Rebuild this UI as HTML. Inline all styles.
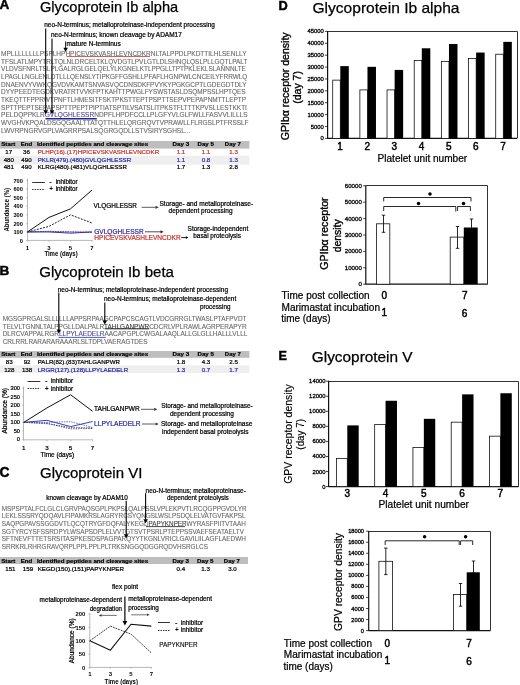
<!DOCTYPE html><html><head><meta charset="utf-8"><style>html,body{margin:0;padding:0;background:#fff;}svg{display:block;will-change:transform;}text{font-family:"Liberation Sans",sans-serif;}</style></head><body><svg width="520" height="685" viewBox="0 0 520 685" font-family="Liberation Sans, sans-serif">
<rect width="520" height="685" fill="#fff"/>
<text x="-0.60" y="9.20" font-size="13.6" font-weight="bold" fill="#000" stroke="#000" stroke-width="0.45">A</text>
<text x="40.00" y="12.30" font-size="14.6" font-weight="normal" fill="#000" stroke="#000" stroke-width="0.25" textLength="138.20" lengthAdjust="spacingAndGlyphs">Glycoprotein Ib alpha</text>
<text x="44.20" y="27.10" font-size="6.6" font-weight="normal" fill="#000" stroke="#000" stroke-width="0.22" textLength="170.80" lengthAdjust="spacingAndGlyphs">neo-N-terminus; metalloproteinase-independent processing</text>
<text x="51.00" y="36.90" font-size="6.6" font-weight="normal" fill="#000" stroke="#000" stroke-width="0.22" textLength="130.80" lengthAdjust="spacingAndGlyphs">neo-N-terminus; known cleavage by ADAM17</text>
<text x="66.60" y="46.30" font-size="6.4" font-weight="normal" fill="#000" stroke="#000" stroke-width="0.22" textLength="54.20" lengthAdjust="spacingAndGlyphs">mature N-terminus</text>
<line x1="65.60" y1="41.50" x2="65.60" y2="48.50" stroke="#000" stroke-width="0.9" />
<path d="M63.4,47.8 L67.9,47.8 L65.6,52.0 Z" fill="#000" stroke="none" stroke-width="0" />
<text x="1.10" y="55.80" font-size="7.4" fill="#6a6a6a" stroke="#6a6a6a" stroke-width="0.12" textLength="245.37" lengthAdjust="spacingAndGlyphs"><tspan fill="#6a6a6a" stroke="#6a6a6a">MPLLLLLLLLPSPLHP</tspan><tspan fill="#6a6a6a" stroke="#6a6a6a">HPICEVSKVASHLEVNCDKR</tspan><tspan fill="#6a6a6a" stroke="#6a6a6a">NLTALPPDLPKDTTILHLSENLLY</tspan></text>
<text x="1.10" y="63.50" font-size="7.4" fill="#6a6a6a" stroke="#6a6a6a" stroke-width="0.12" textLength="246.26" lengthAdjust="spacingAndGlyphs">TFSLATLMPYTRLTQLNLDRCELTKLQVDGTLPVLGTLDLSHNQLQSLPLLGQTLPALT</text>
<text x="1.10" y="71.20" font-size="7.4" fill="#6a6a6a" stroke="#6a6a6a" stroke-width="0.12" textLength="244.83" lengthAdjust="spacingAndGlyphs">VLDVSFNRLTSLPLGALRGLGELQELYLKGNELKTLPPGLLTPTPKLEKLSLANNNLTE</text>
<text x="1.10" y="78.90" font-size="7.4" fill="#6a6a6a" stroke="#6a6a6a" stroke-width="0.12" textLength="246.29" lengthAdjust="spacingAndGlyphs">LPAGLLNGLENLDTLLLQENSLYTIPKGFFGSHLLPFAFLHGNPWLCNCEILYFRRWLQ</text>
<text x="1.10" y="86.60" font-size="7.4" fill="#6a6a6a" stroke="#6a6a6a" stroke-width="0.12" textLength="245.37" lengthAdjust="spacingAndGlyphs">DNAENVYVWKQGVDVKAMTSNVASVQCDNSDKFPVYKYPGKGCPTLGDEGDTDLY</text>
<text x="1.10" y="94.30" font-size="7.4" fill="#6a6a6a" stroke="#6a6a6a" stroke-width="0.12" textLength="244.54" lengthAdjust="spacingAndGlyphs">DYYPEEDTEGDKVRATRTVVKFPTKAHTTPWGLFYSWSTASLDSQMPSSLHPTQES</text>
<text x="1.10" y="102.00" font-size="7.4" fill="#6a6a6a" stroke="#6a6a6a" stroke-width="0.12" textLength="244.95" lengthAdjust="spacingAndGlyphs">TKEQTTFPPRWTPNFTLHMESITFSKTPKSTTEPTPSPTTSEPVPEPAPNMTTLEPTP</text>
<text x="1.10" y="109.70" font-size="7.4" fill="#6a6a6a" stroke="#6a6a6a" stroke-width="0.12" textLength="245.80" lengthAdjust="spacingAndGlyphs">SPTTPEPTSEPAPSPTTPEPTPIPTIATSPTILVSATSLITPKSTFLTTTKPVSLLESTKKTI</text>
<text x="1.10" y="117.40" font-size="7.4" fill="#6a6a6a" stroke="#6a6a6a" stroke-width="0.12" textLength="246.46" lengthAdjust="spacingAndGlyphs"><tspan fill="#6a6a6a" stroke="#6a6a6a">PELDQPPKLR</tspan><tspan fill="#4a4a9a" stroke="#4a4a9a">GVLQGHLESSR</tspan><tspan fill="#6a6a6a" stroke="#6a6a6a">NDPFLHPDFCCLLPLGFYVLGLFWLLFASVVLILLLS</tspan></text>
<text x="1.10" y="125.10" font-size="7.4" fill="#6a6a6a" stroke="#6a6a6a" stroke-width="0.12" textLength="247.45" lengthAdjust="spacingAndGlyphs">WVGHVKPQALDSGQGAALTTATQTTHLELQRGRQVTVPRAWLLFLRGSLPTFRSSLF</text>
<text x="1.10" y="132.80" font-size="7.4" fill="#6a6a6a" stroke="#6a6a6a" stroke-width="0.12" textLength="189.10" lengthAdjust="spacingAndGlyphs">LWVRPNGRVGPLVAGRRPSALSQGRGQDLLSTVSIRYSGHSL...</text>
<line x1="66.50" y1="56.50" x2="150.00" y2="56.50" stroke="#d84a4a" stroke-width="0.9" />
<line x1="45.50" y1="118.80" x2="96.80" y2="118.80" stroke="#24248a" stroke-width="1.6" />
<line x1="45.70" y1="28.60" x2="45.70" y2="110.80" stroke="#000" stroke-width="1.1" />
<path d="M43.40,110.30 L48.00,110.30 L45.70,114.30 Z" fill="#000" stroke="none" stroke-width="0" />
<line x1="52.00" y1="38.60" x2="52.00" y2="110.80" stroke="#000" stroke-width="1.1" />
<path d="M49.70,110.30 L54.30,110.30 L52.00,114.30 Z" fill="#000" stroke="none" stroke-width="0" />
<rect x="0.00" y="141.00" width="249.40" height="7.60" fill="#bebebe"/>
<rect x="0.00" y="155.80" width="249.40" height="8.80" fill="#efefef"/>
<text x="1.20" y="146.40" font-size="6.2" font-weight="bold" fill="#000" stroke="#000" stroke-width="0.2" textLength="14.20" lengthAdjust="spacingAndGlyphs">Start</text>
<text x="20.80" y="146.40" font-size="6.2" font-weight="bold" fill="#000" stroke="#000" stroke-width="0.2" textLength="11.50" lengthAdjust="spacingAndGlyphs">End</text>
<text x="36.90" y="146.40" font-size="6.2" font-weight="bold" fill="#000" stroke="#000" stroke-width="0.2" textLength="111.30" lengthAdjust="spacingAndGlyphs">Identified peptides and cleavage sites</text>
<text x="172.50" y="146.40" font-size="6.2" font-weight="bold" fill="#000" stroke="#000" stroke-width="0.2" textLength="16.70" lengthAdjust="spacingAndGlyphs">Day 3</text>
<text x="197.50" y="146.40" font-size="6.2" font-weight="bold" fill="#000" stroke="#000" stroke-width="0.2" textLength="16.30" lengthAdjust="spacingAndGlyphs">Day 5</text>
<text x="224.80" y="146.40" font-size="6.2" font-weight="bold" fill="#000" stroke="#000" stroke-width="0.2" textLength="16.00" lengthAdjust="spacingAndGlyphs">Day 7</text>
<text x="8.80" y="154.30" font-size="6.2" font-weight="normal" fill="#000" stroke="#000" stroke-width="0.22" text-anchor="middle">17</text>
<text x="26.50" y="154.30" font-size="6.2" font-weight="normal" fill="#000" stroke="#000" stroke-width="0.22" text-anchor="middle">36</text>
<text x="37.70" y="154.30" font-size="6.2" font-weight="normal" fill="#c8352c" stroke="#c8352c" stroke-width="0.22" textLength="121.50" lengthAdjust="spacingAndGlyphs">PLHP(16).(17)HPICEVSKVASHLEVNCDKR</text>
<text x="181.00" y="154.30" font-size="6.2" font-weight="normal" fill="#c8352c" stroke="#c8352c" stroke-width="0.22" text-anchor="middle">1.1</text>
<text x="206.00" y="154.30" font-size="6.2" font-weight="normal" fill="#c8352c" stroke="#c8352c" stroke-width="0.22" text-anchor="middle">1.1</text>
<text x="233.60" y="154.30" font-size="6.2" font-weight="normal" fill="#c8352c" stroke="#c8352c" stroke-width="0.22" text-anchor="middle">1.3</text>
<text x="8.80" y="161.70" font-size="6.2" font-weight="normal" fill="#000" stroke="#000" stroke-width="0.22" text-anchor="middle">480</text>
<text x="26.50" y="161.70" font-size="6.2" font-weight="normal" fill="#000" stroke="#000" stroke-width="0.22" text-anchor="middle">490</text>
<text x="37.70" y="161.70" font-size="6.2" font-weight="normal" fill="#2b2ba6" stroke="#2b2ba6" stroke-width="0.22" textLength="93.50" lengthAdjust="spacingAndGlyphs">PKLR(479).(480)GVLQGHLESSR</text>
<text x="181.00" y="161.70" font-size="6.2" font-weight="normal" fill="#2b2ba6" stroke="#2b2ba6" stroke-width="0.22" text-anchor="middle">1.1</text>
<text x="206.00" y="161.70" font-size="6.2" font-weight="normal" fill="#2b2ba6" stroke="#2b2ba6" stroke-width="0.22" text-anchor="middle">0.8</text>
<text x="233.60" y="161.70" font-size="6.2" font-weight="normal" fill="#2b2ba6" stroke="#2b2ba6" stroke-width="0.22" text-anchor="middle">1.3</text>
<text x="8.80" y="169.20" font-size="6.2" font-weight="normal" fill="#000" stroke="#000" stroke-width="0.22" text-anchor="middle">481</text>
<text x="26.50" y="169.20" font-size="6.2" font-weight="normal" fill="#000" stroke="#000" stroke-width="0.22" text-anchor="middle">490</text>
<text x="37.70" y="169.20" font-size="6.2" font-weight="normal" fill="#000" stroke="#000" stroke-width="0.22" textLength="89.20" lengthAdjust="spacingAndGlyphs">KLRG(480).(481)VLQGHLESSR</text>
<text x="181.00" y="169.20" font-size="6.2" font-weight="normal" fill="#000" stroke="#000" stroke-width="0.22" text-anchor="middle">1.7</text>
<text x="206.00" y="169.20" font-size="6.2" font-weight="normal" fill="#000" stroke="#000" stroke-width="0.22" text-anchor="middle">1.3</text>
<text x="233.60" y="169.20" font-size="6.2" font-weight="normal" fill="#000" stroke="#000" stroke-width="0.22" text-anchor="middle">2.8</text>
<line x1="27.60" y1="178.50" x2="27.60" y2="240.40" stroke="#9a9a9a" stroke-width="0.7" />
<line x1="27.60" y1="240.40" x2="92.50" y2="240.40" stroke="#9a9a9a" stroke-width="0.7" />
<line x1="26.20" y1="240.50" x2="27.60" y2="240.50" stroke="#9a9a9a" stroke-width="0.6" />
<text x="22.90" y="242.60" font-size="5.7" font-weight="bold" fill="#000" text-anchor="end">0</text>
<line x1="26.20" y1="231.95" x2="27.60" y2="231.95" stroke="#9a9a9a" stroke-width="0.6" />
<text x="22.90" y="234.05" font-size="5.7" font-weight="bold" fill="#000" text-anchor="end">100</text>
<line x1="26.20" y1="223.40" x2="27.60" y2="223.40" stroke="#9a9a9a" stroke-width="0.6" />
<text x="22.90" y="225.50" font-size="5.7" font-weight="bold" fill="#000" text-anchor="end">200</text>
<line x1="26.20" y1="214.85" x2="27.60" y2="214.85" stroke="#9a9a9a" stroke-width="0.6" />
<text x="22.90" y="216.95" font-size="5.7" font-weight="bold" fill="#000" text-anchor="end">300</text>
<line x1="26.20" y1="206.30" x2="27.60" y2="206.30" stroke="#9a9a9a" stroke-width="0.6" />
<text x="22.90" y="208.40" font-size="5.7" font-weight="bold" fill="#000" text-anchor="end">400</text>
<line x1="26.20" y1="197.75" x2="27.60" y2="197.75" stroke="#9a9a9a" stroke-width="0.6" />
<text x="22.90" y="199.85" font-size="5.7" font-weight="bold" fill="#000" text-anchor="end">500</text>
<line x1="26.20" y1="189.20" x2="27.60" y2="189.20" stroke="#9a9a9a" stroke-width="0.6" />
<text x="22.90" y="191.30" font-size="5.7" font-weight="bold" fill="#000" text-anchor="end">600</text>
<line x1="26.20" y1="180.65" x2="27.60" y2="180.65" stroke="#9a9a9a" stroke-width="0.6" />
<text x="22.90" y="182.75" font-size="5.7" font-weight="bold" fill="#000" text-anchor="end">700</text>
<line x1="27.50" y1="240.40" x2="27.50" y2="241.80" stroke="#9a9a9a" stroke-width="0.6" />
<text x="27.50" y="249.80" font-size="6.0" font-weight="bold" fill="#000" text-anchor="middle">1</text>
<line x1="49.00" y1="240.40" x2="49.00" y2="241.80" stroke="#9a9a9a" stroke-width="0.6" />
<text x="49.00" y="249.80" font-size="6.0" font-weight="bold" fill="#000" text-anchor="middle">3</text>
<line x1="70.50" y1="240.40" x2="70.50" y2="241.80" stroke="#9a9a9a" stroke-width="0.6" />
<text x="70.50" y="249.80" font-size="6.0" font-weight="bold" fill="#000" text-anchor="middle">5</text>
<line x1="92.00" y1="240.40" x2="92.00" y2="241.80" stroke="#9a9a9a" stroke-width="0.6" />
<text x="92.00" y="249.80" font-size="6.0" font-weight="bold" fill="#000" text-anchor="middle">7</text>
<text x="44.40" y="255.60" font-size="6.6" font-weight="bold" fill="#000" textLength="33.30" lengthAdjust="spacingAndGlyphs">Time (days)</text>
<text x="9.45" y="209.80" font-size="6.8" font-weight="bold" fill="#000" text-anchor="middle" transform="rotate(-90 9.45 209.80)" textLength="43.50" lengthAdjust="spacingAndGlyphs">Abundance (%)</text>
<line x1="32.20" y1="182.50" x2="44.90" y2="182.50" stroke="#333" stroke-width="1.0" />
<line x1="32.20" y1="189.50" x2="44.90" y2="189.50" stroke="#333" stroke-width="1.0" stroke-dasharray="1.5,1"/>
<text x="50.60" y="183.60" font-size="6.4" font-weight="normal" fill="#000" stroke="#000" stroke-width="0.22" text-anchor="middle">-</text>
<text x="51.20" y="191.10" font-size="6.4" font-weight="bold" fill="#000" text-anchor="middle">+</text>
<text x="55.70" y="183.60" font-size="6.4" font-weight="normal" fill="#000" stroke="#000" stroke-width="0.22" textLength="22.00" lengthAdjust="spacingAndGlyphs">inhibitor</text>
<text x="55.70" y="190.90" font-size="6.4" font-weight="normal" fill="#000" stroke="#000" stroke-width="0.22" textLength="22.00" lengthAdjust="spacingAndGlyphs">inhibitor</text>
<polyline points="27.50,231.95 49.00,231.61 70.50,231.44 92.00,231.09" fill="none" stroke="#e0a0a0" stroke-width="0.6" stroke-linejoin="round" />
<polyline points="27.50,231.95 49.00,231.44 70.50,231.95 92.00,232.12" fill="none" stroke="#e0a0a0" stroke-width="0.6" stroke-linejoin="round" stroke-dasharray="1.5,1"/>
<polyline points="27.50,231.95 49.00,231.95 70.50,233.15 92.00,231.95" fill="none" stroke="#3030b0" stroke-width="1.0" stroke-linejoin="round" />
<polyline points="27.50,231.95 49.00,231.27 70.50,231.95 92.00,232.38" fill="none" stroke="#3030b0" stroke-width="0.9" stroke-linejoin="round" stroke-dasharray="1.5,1"/>
<polyline points="27.50,231.95 49.00,217.41 70.50,208.87 92.00,190.06" fill="none" stroke="#111" stroke-width="1.0" stroke-linejoin="round" />
<polyline points="27.50,231.95 49.00,226.39 70.50,214.85 92.00,222.97" fill="none" stroke="#222" stroke-width="1.0" stroke-linejoin="round" stroke-dasharray="2,1.2"/>
<text x="93.50" y="208.00" font-size="6.6" font-weight="normal" fill="#000" stroke="#000" stroke-width="0.22" textLength="43.50" lengthAdjust="spacingAndGlyphs">VLQGHLESSR</text>
<line x1="141.60" y1="207.30" x2="155.90" y2="207.30" stroke="#333" stroke-width="0.8" />
<path d="M155.60,205.70 L155.60,208.90 L158.60,207.30 Z" fill="#333" stroke="none" stroke-width="0" />
<text x="159.50" y="206.10" font-size="6.6" font-weight="normal" fill="#000" stroke="#000" stroke-width="0.22" textLength="93.70" lengthAdjust="spacingAndGlyphs">Storage- and metalloproteinase-</text>
<text x="168.60" y="213.10" font-size="6.6" font-weight="normal" fill="#000" stroke="#000" stroke-width="0.22" textLength="63.90" lengthAdjust="spacingAndGlyphs">dependent processing</text>
<text x="94.30" y="234.00" font-size="6.6" font-weight="normal" fill="#2b2ba6" stroke="#2b2ba6" stroke-width="0.22" textLength="49.30" lengthAdjust="spacingAndGlyphs">GVLQGHLESSR</text>
<line x1="145.00" y1="231.80" x2="160.80" y2="231.80" stroke="#222" stroke-width="0.8" />
<path d="M160.50,230.20 L160.50,233.40 L163.50,231.80 Z" fill="#222" stroke="none" stroke-width="0" />
<text x="94.30" y="239.70" font-size="6.6" font-weight="normal" fill="#c8352c" stroke="#c8352c" stroke-width="0.22" textLength="86.40" lengthAdjust="spacingAndGlyphs">HPICEVSKVASHLEVNCDKR</text>
<line x1="181.20" y1="237.60" x2="186.20" y2="237.60" stroke="#000" stroke-width="0.9" />
<path d="M185.90,236.30 L185.90,238.90 L188.30,237.60 Z" fill="#000" stroke="none" stroke-width="0" />
<text x="187.60" y="230.60" font-size="6.6" font-weight="normal" fill="#000" stroke="#000" stroke-width="0.22" textLength="60.70" lengthAdjust="spacingAndGlyphs">Storage-independent</text>
<text x="193.30" y="238.40" font-size="6.6" font-weight="normal" fill="#000" stroke="#000" stroke-width="0.22" textLength="47.60" lengthAdjust="spacingAndGlyphs">basal proteolysis</text>
<text x="-0.60" y="274.70" font-size="13.6" font-weight="bold" fill="#000" stroke="#000" stroke-width="0.45">B</text>
<text x="39.20" y="276.70" font-size="15.05" font-weight="normal" fill="#000" stroke="#000" stroke-width="0.25" textLength="134.80" lengthAdjust="spacingAndGlyphs">Glycoprotein Ib beta</text>
<text x="57.70" y="291.60" font-size="6.6" font-weight="normal" fill="#000" stroke="#000" stroke-width="0.22" textLength="170.30" lengthAdjust="spacingAndGlyphs">neo-N-terminus; metalloproteinase-independent processing</text>
<text x="104.00" y="301.20" font-size="6.6" font-weight="normal" fill="#000" stroke="#000" stroke-width="0.22" textLength="132.20" lengthAdjust="spacingAndGlyphs">neo-N-terminus; metalloproteinase-dependent</text>
<text x="200.00" y="308.90" font-size="6.6" font-weight="normal" fill="#000" stroke="#000" stroke-width="0.22" textLength="30.40" lengthAdjust="spacingAndGlyphs">processing</text>
<text x="2.70" y="320.90" font-size="7.4" fill="#6a6a6a" stroke="#6a6a6a" stroke-width="0.12" textLength="243.76" lengthAdjust="spacingAndGlyphs">MGSGPRGALSLLLLLLAPPSRPAAGCPAPCSCAGTLVDCGRRGLTWASLPTAFPVDT</text>
<text x="2.70" y="328.50" font-size="7.4" fill="#6a6a6a" stroke="#6a6a6a" stroke-width="0.12" textLength="243.89" lengthAdjust="spacingAndGlyphs"><tspan fill="#6a6a6a" stroke="#6a6a6a">TELVLTGNNLTALPPGLLDALPALR</tspan><tspan fill="#3a3a3a" stroke="#3a3a3a">TAHLGANPWR</tspan><tspan fill="#6a6a6a" stroke="#6a6a6a">CDCRLVPLRAWLAGRPERAPYR</tspan></text>
<text x="2.70" y="336.10" font-size="7.4" fill="#6a6a6a" stroke="#6a6a6a" stroke-width="0.12" textLength="244.66" lengthAdjust="spacingAndGlyphs"><tspan fill="#6a6a6a" stroke="#6a6a6a">DLRCVAPPALRGR</tspan><tspan fill="#4a4a9a" stroke="#4a4a9a">LLPYLAEDELR</tspan><tspan fill="#6a6a6a" stroke="#6a6a6a">AACAPGPLCWGALAAQLALLGLGLLHALLLVLLL</tspan></text>
<text x="2.70" y="343.70" font-size="7.4" fill="#6a6a6a" stroke="#6a6a6a" stroke-width="0.12" textLength="144.89" lengthAdjust="spacingAndGlyphs">CRLRRLRARARARAAARLSLTDPLVAERAGTDES</text>
<line x1="104.60" y1="328.80" x2="149.20" y2="328.80" stroke="#222" stroke-width="1.0" />
<line x1="58.60" y1="337.40" x2="105.80" y2="337.40" stroke="#3446c8" stroke-width="0.9" />
<line x1="58.80" y1="292.60" x2="58.80" y2="329.90" stroke="#000" stroke-width="1.1" />
<path d="M56.50,329.40 L61.10,329.40 L58.80,333.40 Z" fill="#000" stroke="none" stroke-width="0" />
<line x1="104.80" y1="302.40" x2="104.80" y2="321.10" stroke="#000" stroke-width="1.1" />
<path d="M102.50,320.60 L107.10,320.60 L104.80,324.60 Z" fill="#000" stroke="none" stroke-width="0" />
<rect x="0.00" y="351.00" width="249.40" height="6.80" fill="#bebebe"/>
<rect x="0.00" y="365.20" width="249.40" height="7.80" fill="#efefef"/>
<text x="1.20" y="356.20" font-size="6.2" font-weight="bold" fill="#000" stroke="#000" stroke-width="0.2" textLength="14.20" lengthAdjust="spacingAndGlyphs">Start</text>
<text x="20.80" y="356.20" font-size="6.2" font-weight="bold" fill="#000" stroke="#000" stroke-width="0.2" textLength="11.50" lengthAdjust="spacingAndGlyphs">End</text>
<text x="36.90" y="356.20" font-size="6.2" font-weight="bold" fill="#000" stroke="#000" stroke-width="0.2" textLength="111.30" lengthAdjust="spacingAndGlyphs">Identified peptides and cleavage sites</text>
<text x="172.50" y="356.20" font-size="6.2" font-weight="bold" fill="#000" stroke="#000" stroke-width="0.2" textLength="16.70" lengthAdjust="spacingAndGlyphs">Day 3</text>
<text x="197.50" y="356.20" font-size="6.2" font-weight="bold" fill="#000" stroke="#000" stroke-width="0.2" textLength="16.30" lengthAdjust="spacingAndGlyphs">Day 5</text>
<text x="224.80" y="356.20" font-size="6.2" font-weight="bold" fill="#000" stroke="#000" stroke-width="0.2" textLength="16.00" lengthAdjust="spacingAndGlyphs">Day 7</text>
<text x="9.30" y="363.90" font-size="6.2" font-weight="normal" fill="#000" stroke="#000" stroke-width="0.22" text-anchor="middle">83</text>
<text x="27.10" y="363.90" font-size="6.2" font-weight="normal" fill="#000" stroke="#000" stroke-width="0.22" text-anchor="middle">92</text>
<text x="37.70" y="363.90" font-size="6.2" font-weight="normal" fill="#000" stroke="#000" stroke-width="0.22" textLength="82.30" lengthAdjust="spacingAndGlyphs">PALR(82).(83)TAHLGANPWR</text>
<text x="181.00" y="363.90" font-size="6.2" font-weight="normal" fill="#000" stroke="#000" stroke-width="0.22" text-anchor="middle">1.8</text>
<text x="206.00" y="363.90" font-size="6.2" font-weight="normal" fill="#000" stroke="#000" stroke-width="0.22" text-anchor="middle">4.3</text>
<text x="233.60" y="363.90" font-size="6.2" font-weight="normal" fill="#000" stroke="#000" stroke-width="0.22" text-anchor="middle">2.5</text>
<text x="9.30" y="371.50" font-size="6.2" font-weight="normal" fill="#000" stroke="#000" stroke-width="0.22" text-anchor="middle">128</text>
<text x="27.10" y="371.50" font-size="6.2" font-weight="normal" fill="#000" stroke="#000" stroke-width="0.22" text-anchor="middle">138</text>
<text x="37.70" y="371.50" font-size="6.2" font-weight="normal" fill="#2b2ba6" stroke="#2b2ba6" stroke-width="0.22" textLength="90.50" lengthAdjust="spacingAndGlyphs">LRGR(127).(128)LLPYLAEDELR</text>
<text x="181.00" y="371.50" font-size="6.2" font-weight="normal" fill="#2b2ba6" stroke="#2b2ba6" stroke-width="0.22" text-anchor="middle">1.3</text>
<text x="206.00" y="371.50" font-size="6.2" font-weight="normal" fill="#2b2ba6" stroke="#2b2ba6" stroke-width="0.22" text-anchor="middle">0.7</text>
<text x="233.60" y="371.50" font-size="6.2" font-weight="normal" fill="#2b2ba6" stroke="#2b2ba6" stroke-width="0.22" text-anchor="middle">1.7</text>
<line x1="23.50" y1="386.50" x2="23.50" y2="439.80" stroke="#9a9a9a" stroke-width="0.7" />
<line x1="23.50" y1="439.80" x2="93.00" y2="439.80" stroke="#9a9a9a" stroke-width="0.7" />
<line x1="22.10" y1="439.40" x2="23.50" y2="439.40" stroke="#9a9a9a" stroke-width="0.6" />
<text x="19.90" y="441.40" font-size="5.6" font-weight="normal" fill="#000" stroke="#000" stroke-width="0.22" text-anchor="end">0</text>
<line x1="22.10" y1="430.88" x2="23.50" y2="430.88" stroke="#9a9a9a" stroke-width="0.6" />
<text x="19.90" y="432.88" font-size="5.6" font-weight="normal" fill="#000" stroke="#000" stroke-width="0.22" text-anchor="end">50</text>
<line x1="22.10" y1="422.36" x2="23.50" y2="422.36" stroke="#9a9a9a" stroke-width="0.6" />
<text x="19.90" y="424.36" font-size="5.6" font-weight="normal" fill="#000" stroke="#000" stroke-width="0.22" text-anchor="end">100</text>
<line x1="22.10" y1="413.84" x2="23.50" y2="413.84" stroke="#9a9a9a" stroke-width="0.6" />
<text x="19.90" y="415.84" font-size="5.6" font-weight="normal" fill="#000" stroke="#000" stroke-width="0.22" text-anchor="end">150</text>
<line x1="22.10" y1="405.32" x2="23.50" y2="405.32" stroke="#9a9a9a" stroke-width="0.6" />
<text x="19.90" y="407.32" font-size="5.6" font-weight="normal" fill="#000" stroke="#000" stroke-width="0.22" text-anchor="end">200</text>
<line x1="22.10" y1="396.80" x2="23.50" y2="396.80" stroke="#9a9a9a" stroke-width="0.6" />
<text x="19.90" y="398.80" font-size="5.6" font-weight="normal" fill="#000" stroke="#000" stroke-width="0.22" text-anchor="end">250</text>
<line x1="22.10" y1="388.28" x2="23.50" y2="388.28" stroke="#9a9a9a" stroke-width="0.6" />
<text x="19.90" y="390.28" font-size="5.6" font-weight="normal" fill="#000" stroke="#000" stroke-width="0.22" text-anchor="end">300</text>
<line x1="23.80" y1="439.80" x2="23.80" y2="441.20" stroke="#9a9a9a" stroke-width="0.6" />
<text x="23.80" y="449.70" font-size="6.2" font-weight="normal" fill="#000" stroke="#000" stroke-width="0.22" text-anchor="middle">1</text>
<line x1="47.00" y1="439.80" x2="47.00" y2="441.20" stroke="#9a9a9a" stroke-width="0.6" />
<text x="47.00" y="449.70" font-size="6.2" font-weight="normal" fill="#000" stroke="#000" stroke-width="0.22" text-anchor="middle">3</text>
<line x1="70.60" y1="439.80" x2="70.60" y2="441.20" stroke="#9a9a9a" stroke-width="0.6" />
<text x="70.60" y="449.70" font-size="6.2" font-weight="normal" fill="#000" stroke="#000" stroke-width="0.22" text-anchor="middle">5</text>
<line x1="92.60" y1="439.80" x2="92.60" y2="441.20" stroke="#9a9a9a" stroke-width="0.6" />
<text x="92.60" y="449.70" font-size="6.2" font-weight="normal" fill="#000" stroke="#000" stroke-width="0.22" text-anchor="middle">7</text>
<text x="40.60" y="457.40" font-size="6.8" font-weight="normal" fill="#000" stroke="#000" stroke-width="0.22" textLength="33.60" lengthAdjust="spacingAndGlyphs">Time (days)</text>
<text x="7.30" y="410.80" font-size="6.4" font-weight="normal" fill="#000" text-anchor="middle" transform="rotate(-90 7.30 410.80)" stroke="#000" stroke-width="0.22" textLength="45.50" lengthAdjust="spacingAndGlyphs">Abundance (%)</text>
<line x1="27.60" y1="381.50" x2="40.30" y2="381.50" stroke="#333" stroke-width="1.0" />
<line x1="27.60" y1="388.50" x2="40.30" y2="388.50" stroke="#333" stroke-width="1.0" stroke-dasharray="1.5,1"/>
<text x="46.20" y="383.10" font-size="6.4" font-weight="normal" fill="#000" stroke="#000" stroke-width="0.22" text-anchor="middle">-</text>
<text x="46.80" y="390.70" font-size="6.4" font-weight="bold" fill="#000" text-anchor="middle">+</text>
<text x="50.90" y="383.10" font-size="6.4" font-weight="normal" fill="#000" stroke="#000" stroke-width="0.22" textLength="22.20" lengthAdjust="spacingAndGlyphs">inhibitor</text>
<text x="50.90" y="390.50" font-size="6.4" font-weight="normal" fill="#000" stroke="#000" stroke-width="0.22" textLength="22.20" lengthAdjust="spacingAndGlyphs">inhibitor</text>
<polyline points="23.80,422.36 47.00,423.72 70.60,427.47 92.60,427.81" fill="none" stroke="#4a4ac0" stroke-width="0.8" stroke-linejoin="round" stroke-dasharray="1.5,1"/>
<polyline points="23.80,422.36 47.00,422.36 70.60,421.68 92.60,427.47" fill="none" stroke="#4a4ac0" stroke-width="0.8" stroke-linejoin="round" stroke-dasharray="1.5,1"/>
<polyline points="23.80,422.36 47.00,423.21 70.60,428.84 92.60,428.49" fill="none" stroke="#333" stroke-width="0.8" stroke-linejoin="round" stroke-dasharray="1.5,1"/>
<polyline points="23.80,422.36 47.00,420.32 70.60,426.62 92.60,421.51" fill="none" stroke="#4040b8" stroke-width="1.0" stroke-linejoin="round" />
<polyline points="23.80,422.36 47.00,407.88 70.60,394.76 92.60,411.28" fill="none" stroke="#111" stroke-width="1.0" stroke-linejoin="round" />
<text x="94.00" y="411.30" font-size="6.6" font-weight="normal" fill="#000" stroke="#000" stroke-width="0.22" textLength="45.70" lengthAdjust="spacingAndGlyphs">TAHLGANPWR</text>
<line x1="141.00" y1="409.30" x2="154.50" y2="409.30" stroke="#333" stroke-width="0.8" />
<path d="M154.20,407.70 L154.20,410.90 L157.20,409.30 Z" fill="#333" stroke="none" stroke-width="0" />
<text x="161.20" y="407.60" font-size="6.6" font-weight="normal" fill="#000" stroke="#000" stroke-width="0.22" textLength="91.40" lengthAdjust="spacingAndGlyphs">Storage- and metalloproteinase-</text>
<text x="170.00" y="415.70" font-size="6.6" font-weight="normal" fill="#000" stroke="#000" stroke-width="0.22" textLength="63.80" lengthAdjust="spacingAndGlyphs">dependent processing</text>
<text x="94.00" y="426.00" font-size="6.6" font-weight="normal" fill="#2b2ba6" stroke="#2b2ba6" stroke-width="0.22" textLength="46.60" lengthAdjust="spacingAndGlyphs">LLPYLAEDELR</text>
<line x1="142.00" y1="424.00" x2="155.90" y2="424.00" stroke="#333" stroke-width="0.8" />
<path d="M155.60,422.40 L155.60,425.60 L158.60,424.00 Z" fill="#333" stroke="none" stroke-width="0" />
<text x="161.00" y="425.90" font-size="6.6" font-weight="normal" fill="#000" stroke="#000" stroke-width="0.22" textLength="91.40" lengthAdjust="spacingAndGlyphs">Storage- and metalloproteinase</text>
<text x="162.00" y="434.00" font-size="6.6" font-weight="normal" fill="#000" stroke="#000" stroke-width="0.22" textLength="86.50" lengthAdjust="spacingAndGlyphs">independent basal proteolysis</text>
<text x="-0.60" y="476.60" font-size="13.8" font-weight="bold" fill="#000" stroke="#000" stroke-width="0.45">C</text>
<text x="40.00" y="478.40" font-size="14.95" font-weight="normal" fill="#000" stroke="#000" stroke-width="0.25" textLength="102.30" lengthAdjust="spacingAndGlyphs">Glycoprotein VI</text>
<text x="46.20" y="499.70" font-size="6.6" font-weight="normal" fill="#000" stroke="#000" stroke-width="0.22" textLength="81.70" lengthAdjust="spacingAndGlyphs">known cleavage by ADAM10</text>
<text x="145.60" y="492.70" font-size="6.6" font-weight="normal" fill="#000" stroke="#000" stroke-width="0.22" textLength="100.20" lengthAdjust="spacingAndGlyphs">neo-N-terminus; metalloproteinase-</text>
<text x="166.90" y="499.50" font-size="6.6" font-weight="normal" fill="#000" stroke="#000" stroke-width="0.22" textLength="61.90" lengthAdjust="spacingAndGlyphs">dependent proteolysis</text>
<text x="1.80" y="510.90" font-size="7.4" fill="#6a6a6a" stroke="#6a6a6a" stroke-width="0.12" textLength="244.83" lengthAdjust="spacingAndGlyphs">MSPSPTALFCLGLCLGRVPAQSGPLPKPSLQALPSSLVPLEKPVTLRCQGPPGVDLYR</text>
<text x="1.80" y="518.45" font-size="7.4" fill="#6a6a6a" stroke="#6a6a6a" stroke-width="0.12" textLength="243.77" lengthAdjust="spacingAndGlyphs">LEKLSSSRYQDQAVLFIPAMKRSLAGRYRCSYQNGSLWSLPSDQLELVATGVFAKPSL</text>
<text x="1.80" y="526.00" font-size="7.4" fill="#6a6a6a" stroke="#6a6a6a" stroke-width="0.12" textLength="243.96" lengthAdjust="spacingAndGlyphs"><tspan fill="#6a6a6a" stroke="#6a6a6a">SAQPGPAVSSGGDVTLQCQTRYGFDQFALYKEGD</tspan><tspan fill="#444" stroke="#444">PAPYKNPER</tspan><tspan fill="#6a6a6a" stroke="#6a6a6a">WYRASFPIITVTAAH</tspan></text>
<text x="1.80" y="533.55" font-size="7.4" fill="#6a6a6a" stroke="#6a6a6a" stroke-width="0.12" textLength="242.22" lengthAdjust="spacingAndGlyphs">SGTYRCYSFSSRDPYLWSAPSDPLELVVTGTSVTPSRLPTEPPSSVAEFSEATAELTV</text>
<text x="1.80" y="541.10" font-size="7.4" fill="#6a6a6a" stroke="#6a6a6a" stroke-width="0.12" textLength="244.16" lengthAdjust="spacingAndGlyphs">SFTNEVFTTETSRSITASPKESDSPAGPARQYYTKGNLVRICLGAVILIILAGFLAEDWH</text>
<text x="1.80" y="548.65" font-size="7.4" fill="#6a6a6a" stroke="#6a6a6a" stroke-width="0.12" textLength="206.08" lengthAdjust="spacingAndGlyphs">SRRKRLRHRGRAVQRPLPPLPPLPLTRKSNGGQDGGRQDVHSRGLCS</text>
<line x1="146.00" y1="526.60" x2="185.00" y2="526.60" stroke="#333" stroke-width="0.9" />
<line x1="126.20" y1="500.80" x2="126.20" y2="534.70" stroke="#000" stroke-width="1.1" />
<path d="M123.90,534.20 L128.50,534.20 L126.20,538.20 Z" fill="#000" stroke="none" stroke-width="0" />
<line x1="145.60" y1="493.20" x2="145.60" y2="519.70" stroke="#000" stroke-width="1.1" />
<path d="M143.30,519.20 L147.90,519.20 L145.60,523.20 Z" fill="#000" stroke="none" stroke-width="0" />
<rect x="0.00" y="557.00" width="248.00" height="7.00" fill="#bebebe"/>
<text x="1.20" y="562.60" font-size="6.2" font-weight="bold" fill="#000" stroke="#000" stroke-width="0.2" textLength="14.20" lengthAdjust="spacingAndGlyphs">Start</text>
<text x="20.80" y="562.60" font-size="6.2" font-weight="bold" fill="#000" stroke="#000" stroke-width="0.2" textLength="11.50" lengthAdjust="spacingAndGlyphs">End</text>
<text x="36.90" y="562.60" font-size="6.2" font-weight="bold" fill="#000" stroke="#000" stroke-width="0.2" textLength="111.30" lengthAdjust="spacingAndGlyphs">Identified peptides and cleavage sites</text>
<text x="172.50" y="562.60" font-size="6.2" font-weight="bold" fill="#000" stroke="#000" stroke-width="0.2" textLength="16.30" lengthAdjust="spacingAndGlyphs">Day 3</text>
<text x="197.00" y="562.60" font-size="6.2" font-weight="bold" fill="#000" stroke="#000" stroke-width="0.2" textLength="16.50" lengthAdjust="spacingAndGlyphs">Day 5</text>
<text x="223.80" y="562.60" font-size="6.2" font-weight="bold" fill="#000" stroke="#000" stroke-width="0.2" textLength="16.00" lengthAdjust="spacingAndGlyphs">Day 7</text>
<text x="10.40" y="570.50" font-size="6.2" font-weight="normal" fill="#000" stroke="#000" stroke-width="0.22" text-anchor="middle">151</text>
<text x="28.00" y="570.50" font-size="6.2" font-weight="normal" fill="#000" stroke="#000" stroke-width="0.22" text-anchor="middle">159</text>
<text x="37.70" y="570.50" font-size="6.2" font-weight="normal" fill="#000" stroke="#000" stroke-width="0.22" textLength="86.30" lengthAdjust="spacingAndGlyphs">KEGD(150).(151)PAPYKNPER</text>
<text x="180.80" y="570.50" font-size="6.2" font-weight="normal" fill="#000" stroke="#000" stroke-width="0.22" text-anchor="middle">0.4</text>
<text x="205.60" y="570.50" font-size="6.2" font-weight="normal" fill="#000" stroke="#000" stroke-width="0.22" text-anchor="middle">1.3</text>
<text x="232.50" y="570.50" font-size="6.2" font-weight="normal" fill="#000" stroke="#000" stroke-width="0.22" text-anchor="middle">3.0</text>
<text x="112.00" y="588.60" font-size="6.6" font-weight="normal" fill="#000" stroke="#000" stroke-width="0.22" textLength="26.10" lengthAdjust="spacingAndGlyphs">flex point</text>
<text x="39.60" y="602.20" font-size="6.6" font-weight="normal" fill="#000" stroke="#000" stroke-width="0.22" textLength="82.40" lengthAdjust="spacingAndGlyphs">metalloproteinase-dependent</text>
<text x="89.70" y="610.70" font-size="6.6" font-weight="normal" fill="#000" stroke="#000" stroke-width="0.22" textLength="32.30" lengthAdjust="spacingAndGlyphs">degradation</text>
<text x="128.20" y="601.40" font-size="6.6" font-weight="normal" fill="#000" stroke="#000" stroke-width="0.22" textLength="83.80" lengthAdjust="spacingAndGlyphs">metalloproteinase-dependent</text>
<text x="128.20" y="610.00" font-size="6.6" font-weight="normal" fill="#000" stroke="#000" stroke-width="0.22" textLength="30.70" lengthAdjust="spacingAndGlyphs">processing</text>
<line x1="101.20" y1="615.40" x2="116.70" y2="615.40" stroke="#333" stroke-width="0.7" />
<path d="M101.50,614.10 L101.50,616.70 L98.90,615.40 Z" fill="#333" stroke="none" stroke-width="0" />
<line x1="131.20" y1="614.80" x2="147.30" y2="614.80" stroke="#333" stroke-width="0.7" />
<path d="M147.00,613.50 L147.00,616.10 L149.60,614.80 Z" fill="#333" stroke="none" stroke-width="0" />
<line x1="124.90" y1="596.50" x2="124.90" y2="621.60" stroke="#000" stroke-width="1.2" />
<path d="M122.50,621.10 L127.30,621.10 L124.90,625.60 Z" fill="#000" stroke="none" stroke-width="0" />
<line x1="89.80" y1="612.80" x2="89.80" y2="667.40" stroke="#9a9a9a" stroke-width="0.7" />
<line x1="89.80" y1="667.40" x2="151.80" y2="667.40" stroke="#9a9a9a" stroke-width="0.7" />
<line x1="88.40" y1="667.50" x2="89.80" y2="667.50" stroke="#9a9a9a" stroke-width="0.6" />
<text x="85.20" y="669.60" font-size="5.8" font-weight="bold" fill="#000" text-anchor="end">0</text>
<line x1="88.40" y1="654.15" x2="89.80" y2="654.15" stroke="#9a9a9a" stroke-width="0.6" />
<text x="85.20" y="656.25" font-size="5.8" font-weight="bold" fill="#000" text-anchor="end">50</text>
<line x1="88.40" y1="640.80" x2="89.80" y2="640.80" stroke="#9a9a9a" stroke-width="0.6" />
<text x="85.20" y="642.90" font-size="5.8" font-weight="bold" fill="#000" text-anchor="end">100</text>
<line x1="88.40" y1="627.45" x2="89.80" y2="627.45" stroke="#9a9a9a" stroke-width="0.6" />
<text x="85.20" y="629.55" font-size="5.8" font-weight="bold" fill="#000" text-anchor="end">150</text>
<line x1="88.40" y1="614.10" x2="89.80" y2="614.10" stroke="#9a9a9a" stroke-width="0.6" />
<text x="85.20" y="616.20" font-size="5.8" font-weight="bold" fill="#000" text-anchor="end">200</text>
<line x1="89.80" y1="667.40" x2="89.80" y2="668.80" stroke="#9a9a9a" stroke-width="0.6" />
<text x="89.80" y="676.20" font-size="6.0" font-weight="bold" fill="#000" text-anchor="middle">1</text>
<line x1="110.40" y1="667.40" x2="110.40" y2="668.80" stroke="#9a9a9a" stroke-width="0.6" />
<text x="110.40" y="676.20" font-size="6.0" font-weight="bold" fill="#000" text-anchor="middle">3</text>
<line x1="131.00" y1="667.40" x2="131.00" y2="668.80" stroke="#9a9a9a" stroke-width="0.6" />
<text x="131.00" y="676.20" font-size="6.0" font-weight="bold" fill="#000" text-anchor="middle">5</text>
<line x1="151.30" y1="667.40" x2="151.30" y2="668.80" stroke="#9a9a9a" stroke-width="0.6" />
<text x="151.30" y="676.20" font-size="6.0" font-weight="bold" fill="#000" text-anchor="middle">7</text>
<text x="104.60" y="683.80" font-size="6.8" font-weight="bold" fill="#000" textLength="33.30" lengthAdjust="spacingAndGlyphs">Time (days)</text>
<text x="74.35" y="640.80" font-size="6.8" font-weight="normal" fill="#000" text-anchor="middle" transform="rotate(-90 74.35 640.80)" stroke="#000" stroke-width="0.22" textLength="45.00" lengthAdjust="spacingAndGlyphs">Abundance (%)</text>
<polyline points="89.80,640.80 110.40,626.12 131.00,634.12 151.30,652.82" fill="none" stroke="#222" stroke-width="0.9" stroke-linejoin="round" stroke-dasharray="1.8,1"/>
<polyline points="89.80,640.80 110.40,650.14 131.00,624.25 151.30,626.12" fill="none" stroke="#111" stroke-width="1.1" stroke-linejoin="round" />
<line x1="158.00" y1="622.50" x2="169.80" y2="622.50" stroke="#333" stroke-width="1.0" />
<line x1="158.00" y1="630.50" x2="169.80" y2="630.50" stroke="#333" stroke-width="1.0" stroke-dasharray="1.5,1"/>
<text x="176.20" y="624.60" font-size="6.4" font-weight="normal" fill="#000" stroke="#000" stroke-width="0.22" text-anchor="middle">-</text>
<text x="176.80" y="632.20" font-size="6.4" font-weight="bold" fill="#000" text-anchor="middle">+</text>
<text x="180.90" y="624.60" font-size="6.4" font-weight="normal" fill="#000" stroke="#000" stroke-width="0.22" textLength="22.20" lengthAdjust="spacingAndGlyphs">inhibitor</text>
<text x="180.90" y="632.00" font-size="6.4" font-weight="normal" fill="#000" stroke="#000" stroke-width="0.22" textLength="22.20" lengthAdjust="spacingAndGlyphs">inhibitor</text>
<text x="159.20" y="646.80" font-size="7.0" font-weight="normal" fill="#000" stroke="#000" stroke-width="0.12" textLength="38.50" lengthAdjust="spacingAndGlyphs">PAPYKNPER</text>
<text x="278.40" y="9.80" font-size="12.8" font-weight="bold" fill="#000" stroke="#000" stroke-width="0.45">D</text>
<text x="312.50" y="12.60" font-size="15.55" font-weight="normal" fill="#000" stroke="#000" stroke-width="0.25" textLength="147.00" lengthAdjust="spacingAndGlyphs">Glycoprotein Ib alpha</text>
<line x1="327.60" y1="31.50" x2="517.50" y2="31.50" stroke="#333" stroke-width="1.0" />
<line x1="517.50" y1="31.50" x2="517.50" y2="138.40" stroke="#333" stroke-width="1.0" />
<line x1="327.60" y1="31.00" x2="327.60" y2="138.80" stroke="#111" stroke-width="1.2" />
<line x1="327.60" y1="138.40" x2="517.00" y2="138.40" stroke="#111" stroke-width="1.2" />
<line x1="325.00" y1="138.40" x2="327.60" y2="138.40" stroke="#111" stroke-width="0.8" />
<text x="323.80" y="140.40" font-size="5.9" font-weight="normal" fill="#000" stroke="#000" stroke-width="0.3" text-anchor="end">0</text>
<line x1="325.00" y1="126.51" x2="327.60" y2="126.51" stroke="#111" stroke-width="0.8" />
<text x="323.80" y="128.51" font-size="5.9" font-weight="normal" fill="#000" stroke="#000" stroke-width="0.3" text-anchor="end">5000</text>
<line x1="325.00" y1="114.62" x2="327.60" y2="114.62" stroke="#111" stroke-width="0.8" />
<text x="323.80" y="116.62" font-size="5.9" font-weight="normal" fill="#000" stroke="#000" stroke-width="0.3" text-anchor="end">10000</text>
<line x1="325.00" y1="102.73" x2="327.60" y2="102.73" stroke="#111" stroke-width="0.8" />
<text x="323.80" y="104.73" font-size="5.9" font-weight="normal" fill="#000" stroke="#000" stroke-width="0.3" text-anchor="end">15000</text>
<line x1="325.00" y1="90.84" x2="327.60" y2="90.84" stroke="#111" stroke-width="0.8" />
<text x="323.80" y="92.84" font-size="5.9" font-weight="normal" fill="#000" stroke="#000" stroke-width="0.3" text-anchor="end">20000</text>
<line x1="325.00" y1="78.96" x2="327.60" y2="78.96" stroke="#111" stroke-width="0.8" />
<text x="323.80" y="80.96" font-size="5.9" font-weight="normal" fill="#000" stroke="#000" stroke-width="0.3" text-anchor="end">25000</text>
<line x1="325.00" y1="67.07" x2="327.60" y2="67.07" stroke="#111" stroke-width="0.8" />
<text x="323.80" y="69.07" font-size="5.9" font-weight="normal" fill="#000" stroke="#000" stroke-width="0.3" text-anchor="end">30000</text>
<line x1="325.00" y1="55.18" x2="327.60" y2="55.18" stroke="#111" stroke-width="0.8" />
<text x="323.80" y="57.18" font-size="5.9" font-weight="normal" fill="#000" stroke="#000" stroke-width="0.3" text-anchor="end">35000</text>
<line x1="325.00" y1="43.29" x2="327.60" y2="43.29" stroke="#111" stroke-width="0.8" />
<text x="323.80" y="45.29" font-size="5.9" font-weight="normal" fill="#000" stroke="#000" stroke-width="0.3" text-anchor="end">40000</text>
<line x1="325.00" y1="31.40" x2="327.60" y2="31.40" stroke="#111" stroke-width="0.8" />
<text x="323.80" y="33.40" font-size="5.9" font-weight="normal" fill="#000" stroke="#000" stroke-width="0.3" text-anchor="end">45000</text>
<rect x="332.70" y="80.14" width="7.60" height="58.26" fill="#fff" stroke="#111" stroke-width="0.8"/>
<rect x="340.30" y="66.12" width="8.50" height="72.28" fill="#000"/>
<text x="340.00" y="149.60" font-size="10" font-weight="normal" fill="#000" stroke="#000" stroke-width="0.45" text-anchor="middle">1</text>
<rect x="359.87" y="89.89" width="7.60" height="48.51" fill="#fff" stroke="#111" stroke-width="0.8"/>
<rect x="367.47" y="66.83" width="8.50" height="71.57" fill="#000"/>
<text x="367.17" y="149.60" font-size="10" font-weight="normal" fill="#000" stroke="#000" stroke-width="0.45" text-anchor="middle">2</text>
<rect x="387.04" y="89.89" width="7.60" height="48.51" fill="#fff" stroke="#111" stroke-width="0.8"/>
<rect x="394.64" y="69.92" width="8.50" height="68.48" fill="#000"/>
<text x="394.34" y="149.60" font-size="10" font-weight="normal" fill="#000" stroke="#000" stroke-width="0.45" text-anchor="middle">3</text>
<rect x="414.21" y="60.41" width="7.60" height="77.99" fill="#fff" stroke="#111" stroke-width="0.8"/>
<rect x="421.81" y="48.28" width="8.50" height="90.12" fill="#000"/>
<text x="421.51" y="149.60" font-size="10" font-weight="normal" fill="#000" stroke="#000" stroke-width="0.45" text-anchor="middle">4</text>
<rect x="441.38" y="61.36" width="7.60" height="77.04" fill="#fff" stroke="#111" stroke-width="0.8"/>
<rect x="448.98" y="44.00" width="8.50" height="94.40" fill="#000"/>
<text x="448.68" y="149.60" font-size="10" font-weight="normal" fill="#000" stroke="#000" stroke-width="0.45" text-anchor="middle">5</text>
<rect x="468.55" y="58.51" width="7.60" height="79.89" fill="#fff" stroke="#111" stroke-width="0.8"/>
<rect x="476.15" y="52.56" width="8.50" height="85.84" fill="#000"/>
<text x="475.85" y="149.60" font-size="10" font-weight="normal" fill="#000" stroke="#000" stroke-width="0.45" text-anchor="middle">6</text>
<rect x="495.72" y="54.23" width="7.60" height="84.17" fill="#fff" stroke="#111" stroke-width="0.8"/>
<rect x="503.32" y="41.86" width="8.50" height="96.54" fill="#000"/>
<text x="503.02" y="149.60" font-size="10" font-weight="normal" fill="#000" stroke="#000" stroke-width="0.45" text-anchor="middle">7</text>
<text x="377.50" y="161.60" font-size="10" font-weight="normal" fill="#000" stroke="#000" stroke-width="0.22" textLength="89.70" lengthAdjust="spacingAndGlyphs">Platelet unit number</text>
<text x="289.24" y="86.30" font-size="10.4" font-weight="normal" fill="#000" text-anchor="middle" transform="rotate(-90 289.24 86.30)" stroke="#000" stroke-width="0.35" textLength="107.80" lengthAdjust="spacingAndGlyphs">GPIbα receptor density</text>
<text x="301.34" y="87.40" font-size="10.4" font-weight="normal" fill="#000" text-anchor="middle" transform="rotate(-90 301.34 87.40)" stroke="#000" stroke-width="0.35" textLength="32.70" lengthAdjust="spacingAndGlyphs">(day 7)</text>
<line x1="365.80" y1="185.50" x2="487.50" y2="185.50" stroke="#333" stroke-width="1.0" />
<line x1="487.50" y1="185.50" x2="487.50" y2="284.20" stroke="#333" stroke-width="1.0" />
<line x1="365.80" y1="185.40" x2="365.80" y2="284.60" stroke="#111" stroke-width="1.2" />
<line x1="365.80" y1="284.20" x2="487.70" y2="284.20" stroke="#111" stroke-width="1.2" />
<line x1="363.20" y1="284.20" x2="365.80" y2="284.20" stroke="#111" stroke-width="0.8" />
<text x="361.80" y="286.20" font-size="6.1" font-weight="normal" fill="#000" stroke="#000" stroke-width="0.3" text-anchor="end">0</text>
<line x1="363.20" y1="267.80" x2="365.80" y2="267.80" stroke="#111" stroke-width="0.8" />
<text x="361.80" y="269.80" font-size="6.1" font-weight="normal" fill="#000" stroke="#000" stroke-width="0.3" text-anchor="end">10000</text>
<line x1="363.20" y1="251.40" x2="365.80" y2="251.40" stroke="#111" stroke-width="0.8" />
<text x="361.80" y="253.40" font-size="6.1" font-weight="normal" fill="#000" stroke="#000" stroke-width="0.3" text-anchor="end">20000</text>
<line x1="363.20" y1="235.00" x2="365.80" y2="235.00" stroke="#111" stroke-width="0.8" />
<text x="361.80" y="237.00" font-size="6.1" font-weight="normal" fill="#000" stroke="#000" stroke-width="0.3" text-anchor="end">30000</text>
<line x1="363.20" y1="218.60" x2="365.80" y2="218.60" stroke="#111" stroke-width="0.8" />
<text x="361.80" y="220.60" font-size="6.1" font-weight="normal" fill="#000" stroke="#000" stroke-width="0.3" text-anchor="end">40000</text>
<line x1="363.20" y1="202.20" x2="365.80" y2="202.20" stroke="#111" stroke-width="0.8" />
<text x="361.80" y="204.20" font-size="6.1" font-weight="normal" fill="#000" stroke="#000" stroke-width="0.3" text-anchor="end">50000</text>
<line x1="363.20" y1="185.80" x2="365.80" y2="185.80" stroke="#111" stroke-width="0.8" />
<text x="361.80" y="187.80" font-size="6.1" font-weight="normal" fill="#000" stroke="#000" stroke-width="0.3" text-anchor="end">60000</text>
<rect x="376.50" y="223.80" width="13.30" height="60.40" fill="#fff" stroke="#111" stroke-width="0.8"/>
<line x1="383.50" y1="215.20" x2="383.50" y2="232.30" stroke="#111" stroke-width="0.9" />
<line x1="381.80" y1="215.20" x2="385.20" y2="215.20" stroke="#111" stroke-width="0.9" />
<line x1="381.80" y1="232.30" x2="385.20" y2="232.30" stroke="#111" stroke-width="0.9" />
<rect x="450.20" y="237.10" width="13.60" height="47.10" fill="#fff" stroke="#111" stroke-width="0.8"/>
<line x1="457.50" y1="226.50" x2="457.50" y2="248.30" stroke="#111" stroke-width="0.9" />
<line x1="455.80" y1="226.50" x2="459.20" y2="226.50" stroke="#111" stroke-width="0.9" />
<line x1="455.80" y1="248.30" x2="459.20" y2="248.30" stroke="#111" stroke-width="0.9" />
<rect x="463.80" y="227.50" width="13.90" height="56.70" fill="#000"/>
<line x1="471.50" y1="219.00" x2="471.50" y2="228.50" stroke="#111" stroke-width="0.9" />
<line x1="469.80" y1="219.00" x2="473.20" y2="219.00" stroke="#111" stroke-width="0.9" />
<line x1="469.80" y1="228.50" x2="473.20" y2="228.50" stroke="#111" stroke-width="0.9" />
<path d="M383.7,201.4 V197.5 H471.0 V201.4" fill="none" stroke="#111" stroke-width="0.9" />
<path d="M383.7,211 V206.5 H455.8 V211.6" fill="none" stroke="#111" stroke-width="0.9" />
<path d="M457.6,211 V206.5 H470.4 V211" fill="none" stroke="#111" stroke-width="0.9" />
<circle cx="430.0" cy="194.10" r="1.75" fill="#000"/>
<circle cx="418.5" cy="203.60" r="1.75" fill="#000"/>
<circle cx="463.5" cy="203.60" r="1.75" fill="#000"/>
<text x="327.64" y="233.50" font-size="10.4" font-weight="normal" fill="#000" text-anchor="middle" transform="rotate(-90 327.64 233.50)" stroke="#000" stroke-width="0.35" textLength="72.30" lengthAdjust="spacingAndGlyphs">GPIbα receptor</text>
<text x="341.24" y="235.80" font-size="10.4" font-weight="normal" fill="#000" text-anchor="middle" transform="rotate(-90 341.24 235.80)" stroke="#000" stroke-width="0.35" textLength="33.00" lengthAdjust="spacingAndGlyphs">density</text>
<text x="281.50" y="298.90" font-size="10" font-weight="normal" fill="#000" stroke="#000" stroke-width="0.22" textLength="88.20" lengthAdjust="spacingAndGlyphs">Time post collection</text>
<text x="381.40" y="298.90" font-size="10" font-weight="normal" fill="#000" stroke="#000" stroke-width="0.45">0</text>
<text x="462.00" y="299.20" font-size="10" font-weight="normal" fill="#000" stroke="#000" stroke-width="0.45">7</text>
<text x="281.50" y="310.50" font-size="10" font-weight="normal" fill="#000" stroke="#000" stroke-width="0.22" textLength="98.50" lengthAdjust="spacingAndGlyphs">Marimastat incubation</text>
<text x="281.20" y="322.20" font-size="10" font-weight="normal" fill="#000" stroke="#000" stroke-width="0.22" textLength="49.30" lengthAdjust="spacingAndGlyphs">time (days)</text>
<text x="381.40" y="316.30" font-size="10" font-weight="normal" fill="#000" stroke="#000" stroke-width="0.45">1</text>
<text x="461.80" y="317.30" font-size="10" font-weight="normal" fill="#000" stroke="#000" stroke-width="0.45">6</text>
<text x="278.60" y="360.40" font-size="12.6" font-weight="bold" fill="#000" stroke="#000" stroke-width="0.45">E</text>
<text x="311.80" y="362.40" font-size="15.35" font-weight="normal" fill="#000" stroke="#000" stroke-width="0.25" textLength="100.80" lengthAdjust="spacingAndGlyphs">Glycoprotein V</text>
<line x1="328.60" y1="381.50" x2="518.50" y2="381.50" stroke="#333" stroke-width="1.0" />
<line x1="518.50" y1="381.50" x2="518.50" y2="486.60" stroke="#333" stroke-width="1.0" />
<line x1="328.60" y1="380.80" x2="328.60" y2="487.00" stroke="#111" stroke-width="1.2" />
<line x1="328.60" y1="486.60" x2="518.60" y2="486.60" stroke="#111" stroke-width="1.2" />
<line x1="326.00" y1="486.60" x2="328.60" y2="486.60" stroke="#111" stroke-width="0.8" />
<text x="325.50" y="488.60" font-size="5.9" font-weight="normal" fill="#000" stroke="#000" stroke-width="0.3" text-anchor="end">0</text>
<line x1="326.00" y1="471.54" x2="328.60" y2="471.54" stroke="#111" stroke-width="0.8" />
<text x="325.50" y="473.54" font-size="5.9" font-weight="normal" fill="#000" stroke="#000" stroke-width="0.3" text-anchor="end">2000</text>
<line x1="326.00" y1="456.49" x2="328.60" y2="456.49" stroke="#111" stroke-width="0.8" />
<text x="325.50" y="458.49" font-size="5.9" font-weight="normal" fill="#000" stroke="#000" stroke-width="0.3" text-anchor="end">4000</text>
<line x1="326.00" y1="441.43" x2="328.60" y2="441.43" stroke="#111" stroke-width="0.8" />
<text x="325.50" y="443.43" font-size="5.9" font-weight="normal" fill="#000" stroke="#000" stroke-width="0.3" text-anchor="end">6000</text>
<line x1="326.00" y1="426.37" x2="328.60" y2="426.37" stroke="#111" stroke-width="0.8" />
<text x="325.50" y="428.37" font-size="5.9" font-weight="normal" fill="#000" stroke="#000" stroke-width="0.3" text-anchor="end">8000</text>
<line x1="326.00" y1="411.31" x2="328.60" y2="411.31" stroke="#111" stroke-width="0.8" />
<text x="325.50" y="413.31" font-size="5.9" font-weight="normal" fill="#000" stroke="#000" stroke-width="0.3" text-anchor="end">10000</text>
<line x1="326.00" y1="396.26" x2="328.60" y2="396.26" stroke="#111" stroke-width="0.8" />
<text x="325.50" y="398.26" font-size="5.9" font-weight="normal" fill="#000" stroke="#000" stroke-width="0.3" text-anchor="end">12000</text>
<line x1="326.00" y1="381.20" x2="328.60" y2="381.20" stroke="#111" stroke-width="0.8" />
<text x="325.50" y="383.20" font-size="5.9" font-weight="normal" fill="#000" stroke="#000" stroke-width="0.3" text-anchor="end">14000</text>
<rect x="336.40" y="458.59" width="10.90" height="28.01" fill="#fff" stroke="#111" stroke-width="0.8"/>
<rect x="347.30" y="425.39" width="11.40" height="61.21" fill="#000"/>
<text x="347.30" y="497.00" font-size="10" font-weight="normal" fill="#000" stroke="#000" stroke-width="0.45" text-anchor="middle">3</text>
<rect x="374.67" y="424.41" width="10.90" height="62.19" fill="#fff" stroke="#111" stroke-width="0.8"/>
<rect x="385.57" y="400.77" width="11.40" height="85.83" fill="#000"/>
<text x="385.57" y="497.00" font-size="10" font-weight="normal" fill="#000" stroke="#000" stroke-width="0.45" text-anchor="middle">4</text>
<rect x="412.94" y="447.45" width="10.90" height="39.15" fill="#fff" stroke="#111" stroke-width="0.8"/>
<rect x="423.84" y="418.84" width="11.40" height="67.76" fill="#000"/>
<text x="423.84" y="497.00" font-size="10" font-weight="normal" fill="#000" stroke="#000" stroke-width="0.45" text-anchor="middle">5</text>
<rect x="451.21" y="422.16" width="10.90" height="64.44" fill="#fff" stroke="#111" stroke-width="0.8"/>
<rect x="462.11" y="394.38" width="11.40" height="92.23" fill="#000"/>
<text x="462.11" y="497.00" font-size="10" font-weight="normal" fill="#000" stroke="#000" stroke-width="0.45" text-anchor="middle">6</text>
<rect x="489.48" y="436.16" width="10.90" height="50.44" fill="#fff" stroke="#111" stroke-width="0.8"/>
<rect x="500.38" y="393.25" width="11.40" height="93.35" fill="#000"/>
<text x="500.38" y="497.00" font-size="10" font-weight="normal" fill="#000" stroke="#000" stroke-width="0.45" text-anchor="middle">7</text>
<text x="378.50" y="508.20" font-size="10" font-weight="normal" fill="#000" stroke="#000" stroke-width="0.22" textLength="90.50" lengthAdjust="spacingAndGlyphs">Platelet unit number</text>
<text x="292.17" y="434.00" font-size="10.2" font-weight="normal" fill="#000" text-anchor="middle" transform="rotate(-90 292.17 434.00)" stroke="#000" stroke-width="0.15" textLength="99.70" lengthAdjust="spacingAndGlyphs">GPV receptor density</text>
<text x="304.17" y="434.30" font-size="10.2" font-weight="normal" fill="#000" text-anchor="middle" transform="rotate(-90 304.17 434.30)" stroke="#000" stroke-width="0.15" textLength="30.70" lengthAdjust="spacingAndGlyphs">(day 7)</text>
<line x1="368.70" y1="531.50" x2="490.50" y2="531.50" stroke="#333" stroke-width="1.0" />
<line x1="490.50" y1="531.50" x2="490.50" y2="630.60" stroke="#333" stroke-width="1.0" />
<line x1="368.70" y1="530.90" x2="368.70" y2="631.00" stroke="#111" stroke-width="1.2" />
<line x1="368.70" y1="630.60" x2="490.40" y2="630.60" stroke="#111" stroke-width="1.2" />
<line x1="366.10" y1="630.60" x2="368.70" y2="630.60" stroke="#111" stroke-width="0.8" />
<text x="364.00" y="632.60" font-size="5.7" font-weight="normal" fill="#000" stroke="#000" stroke-width="0.3" text-anchor="end">0</text>
<line x1="366.10" y1="619.56" x2="368.70" y2="619.56" stroke="#111" stroke-width="0.8" />
<text x="364.00" y="621.56" font-size="5.7" font-weight="normal" fill="#000" stroke="#000" stroke-width="0.3" text-anchor="end">2000</text>
<line x1="366.10" y1="608.51" x2="368.70" y2="608.51" stroke="#111" stroke-width="0.8" />
<text x="364.00" y="610.51" font-size="5.7" font-weight="normal" fill="#000" stroke="#000" stroke-width="0.3" text-anchor="end">4000</text>
<line x1="366.10" y1="597.47" x2="368.70" y2="597.47" stroke="#111" stroke-width="0.8" />
<text x="364.00" y="599.47" font-size="5.7" font-weight="normal" fill="#000" stroke="#000" stroke-width="0.3" text-anchor="end">6000</text>
<line x1="366.10" y1="586.42" x2="368.70" y2="586.42" stroke="#111" stroke-width="0.8" />
<text x="364.00" y="588.42" font-size="5.7" font-weight="normal" fill="#000" stroke="#000" stroke-width="0.3" text-anchor="end">8000</text>
<line x1="366.10" y1="575.38" x2="368.70" y2="575.38" stroke="#111" stroke-width="0.8" />
<text x="364.00" y="577.38" font-size="5.7" font-weight="normal" fill="#000" stroke="#000" stroke-width="0.3" text-anchor="end">10000</text>
<line x1="366.10" y1="564.33" x2="368.70" y2="564.33" stroke="#111" stroke-width="0.8" />
<text x="364.00" y="566.33" font-size="5.7" font-weight="normal" fill="#000" stroke="#000" stroke-width="0.3" text-anchor="end">12000</text>
<line x1="366.10" y1="553.29" x2="368.70" y2="553.29" stroke="#111" stroke-width="0.8" />
<text x="364.00" y="555.29" font-size="5.7" font-weight="normal" fill="#000" stroke="#000" stroke-width="0.3" text-anchor="end">14000</text>
<line x1="366.10" y1="542.24" x2="368.70" y2="542.24" stroke="#111" stroke-width="0.8" />
<text x="364.00" y="544.24" font-size="5.7" font-weight="normal" fill="#000" stroke="#000" stroke-width="0.3" text-anchor="end">16000</text>
<line x1="366.10" y1="531.20" x2="368.70" y2="531.20" stroke="#111" stroke-width="0.8" />
<text x="364.00" y="533.20" font-size="5.7" font-weight="normal" fill="#000" stroke="#000" stroke-width="0.3" text-anchor="end">18000</text>
<rect x="378.90" y="561.30" width="13.70" height="69.30" fill="#fff" stroke="#111" stroke-width="0.8"/>
<line x1="385.80" y1="548.10" x2="385.80" y2="574.60" stroke="#111" stroke-width="0.9" />
<line x1="384.10" y1="548.10" x2="387.50" y2="548.10" stroke="#111" stroke-width="0.9" />
<line x1="384.10" y1="574.60" x2="387.50" y2="574.60" stroke="#111" stroke-width="0.9" />
<rect x="453.50" y="594.60" width="13.20" height="36.00" fill="#fff" stroke="#111" stroke-width="0.8"/>
<line x1="460.50" y1="583.50" x2="460.50" y2="606.20" stroke="#111" stroke-width="0.9" />
<line x1="458.80" y1="583.50" x2="462.20" y2="583.50" stroke="#111" stroke-width="0.9" />
<line x1="458.80" y1="606.20" x2="462.20" y2="606.20" stroke="#111" stroke-width="0.9" />
<rect x="466.70" y="572.30" width="13.10" height="58.30" fill="#000"/>
<line x1="473.50" y1="561.00" x2="473.50" y2="573.00" stroke="#111" stroke-width="0.9" />
<line x1="471.80" y1="561.00" x2="475.20" y2="561.00" stroke="#111" stroke-width="0.9" />
<line x1="471.80" y1="573.00" x2="475.20" y2="573.00" stroke="#111" stroke-width="0.9" />
<path d="M385.2,545 V540.8 H459.2 V545" fill="none" stroke="#111" stroke-width="0.9" />
<path d="M460.6,545 V540.8 H472.7 V545" fill="none" stroke="#111" stroke-width="0.9" />
<circle cx="424.6" cy="536.80" r="1.75" fill="#000"/>
<circle cx="465.6" cy="536.80" r="1.75" fill="#000"/>
<text x="341.87" y="582.00" font-size="10.2" font-weight="normal" fill="#000" text-anchor="middle" transform="rotate(-90 341.87 582.00)" stroke="#000" stroke-width="0.2" textLength="98.00" lengthAdjust="spacingAndGlyphs">GPV receptor density</text>
<text x="283.80" y="646.50" font-size="10" font-weight="normal" fill="#000" stroke="#000" stroke-width="0.22" textLength="88.20" lengthAdjust="spacingAndGlyphs">Time post collection</text>
<text x="384.40" y="646.50" font-size="10" font-weight="normal" fill="#000" stroke="#000" stroke-width="0.45">0</text>
<text x="466.30" y="646.80" font-size="10" font-weight="normal" fill="#000" stroke="#000" stroke-width="0.45">7</text>
<text x="283.80" y="658.10" font-size="10" font-weight="normal" fill="#000" stroke="#000" stroke-width="0.22" textLength="98.50" lengthAdjust="spacingAndGlyphs">Marimastat incubation</text>
<text x="283.50" y="669.60" font-size="10" font-weight="normal" fill="#000" stroke="#000" stroke-width="0.22" textLength="49.30" lengthAdjust="spacingAndGlyphs">time (days)</text>
<text x="384.40" y="664.30" font-size="10" font-weight="normal" fill="#000" stroke="#000" stroke-width="0.45">1</text>
<text x="466.30" y="664.60" font-size="10" font-weight="normal" fill="#000" stroke="#000" stroke-width="0.45">6</text>
</svg></body></html>
